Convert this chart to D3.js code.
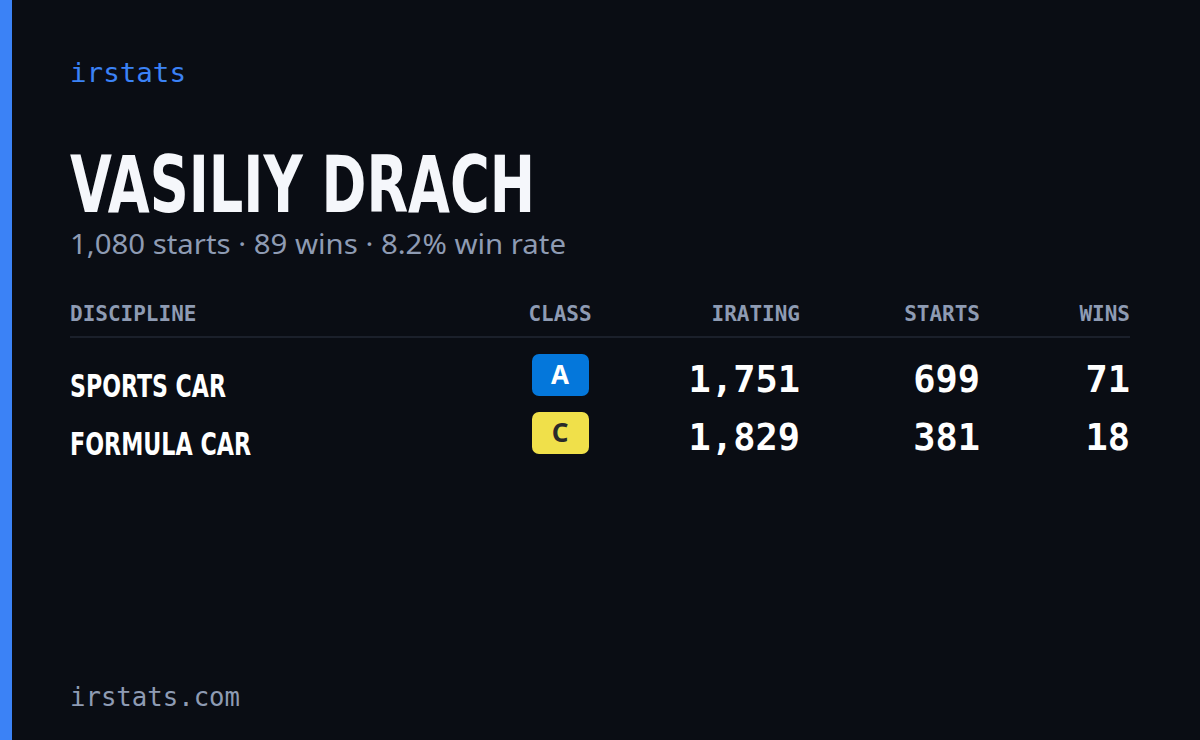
<!DOCTYPE html>
<html><head><meta charset="utf-8">
<script src="https://cdn.jsdelivr.net/npm/d3@7"></script>
<style>body{margin:0;background:#0a0d14}</style>
</head><body>
<script>
const driver = "VASILIY DRACH";
const disciplines = ["SPORTS CAR", "FORMULA CAR"];
const classes = ["A", "C"];
const iratings = [1751, 1829];
const starts = [699, 381];
const wins = [71, 18];
const columns = ["DISCIPLINE", "CLASS", "IRATING", "STARTS", "WINS"];

const W = 1200, H = 740;
const mono = "'DejaVu Sans Mono', 'Liberation Mono', monospace";
const narrow = "'Liberation Sans Narrow', 'DejaVu Sans Condensed', sans-serif";
const classColor = {A: "#0477db", B: "#16a34a", C: "#f0e04a", D: "#f97316"};
const classText = {A: "#ffffff", C: "#2a2a2a"};
const fmt = d3.format(",");

const svg = d3.select("body").append("svg").attr("width", W).attr("height", H);
svg.append("rect").attr("width", W).attr("height", H).attr("fill", "#0a0d14");
svg.append("rect").attr("width", 12).attr("height", H).attr("fill", "#3b82f6");

svg.append("text").attr("x", 70).attr("y", 82).attr("fill", "#3b82f6")
  .attr("font-family", mono).attr("font-size", 27)
  .attr("textLength", 116).attr("lengthAdjust", "spacingAndGlyphs").text("irstats");

svg.append("text").attr("x", 70).attr("y", 212).attr("fill", "#f5f7fb")
  .attr("font-family", narrow).attr("font-weight", "bold").attr("font-size", 78)
  .attr("textLength", 465).attr("lengthAdjust", "spacingAndGlyphs").text(driver);

const totS = d3.sum(starts), totW = d3.sum(wins);
svg.append("text").attr("x", 70).attr("y", 254).attr("fill", "#8e9bb3")
  .attr("font-family", "'Noto Sans', sans-serif").attr("font-size", 28)
  .attr("textLength", 496).attr("lengthAdjust", "spacingAndGlyphs")
  .text(`${fmt(totS)} starts · ${totW} wins · ${(totW / totS * 100).toFixed(1)}% win rate`);

// column anchors
const colX = [70, 560, 800, 980, 1130];
const colAnchor = ["start", "middle", "end", "end", "end"];
svg.selectAll(".hdr").data(columns).join("text")
  .attr("x", (d, i) => colX[i]).attr("y", 321).attr("text-anchor", (d, i) => colAnchor[i])
  .attr("fill", "#8e9bb3").attr("font-family", mono).attr("font-size", 21).attr("font-weight", 600)
  .text(d => d);
svg.append("line").attr("x1", 70).attr("x2", 1130).attr("y1", 337).attr("y2", 337)
  .attr("stroke", "#1b202b").attr("stroke-width", 2);

const nameW = [156, 181];
const y = d3.scaleBand().domain(d3.range(disciplines.length)).range([346, 462]);
const rows = svg.selectAll(".row").data(disciplines).join("g")
  .attr("transform", (d, i) => `translate(0,${y(i)})`);
rows.append("text").attr("x", 70).attr("y", 51).attr("fill", "#ffffff")
  .attr("font-family", narrow).attr("font-weight", "bold").attr("font-size", 32)
  .attr("textLength", (d, i) => nameW[i]).attr("lengthAdjust", "spacingAndGlyphs")
  .text(d => d);
rows.append("rect").attr("x", 532).attr("y", 8).attr("width", 57).attr("height", 42).attr("rx", 7)
  .attr("fill", (d, i) => classColor[classes[i]]);
rows.append("text").attr("x", 560).attr("y", 38).attr("text-anchor", "middle")
  .attr("fill", (d, i) => classText[classes[i]] || "#fff")
  .attr("font-family", "'Noto Sans', sans-serif").attr("font-weight", "bold").attr("font-size", 26)
  .text((d, i) => classes[i]);
const vals = [iratings.map(fmt), starts, wins];
vals.forEach((arr, c) => {
  rows.append("text").attr("x", colX[c + 2]).attr("y", 46).attr("text-anchor", "end")
    .attr("fill", "#ffffff").attr("font-family", mono).attr("font-size", 37).attr("font-weight", 600)
    .text((d, i) => arr[i]);
});

svg.append("text").attr("x", 70).attr("y", 706).attr("fill", "#8e9bb3")
  .attr("font-family", mono).attr("font-size", 27)
  .attr("textLength", 170).attr("lengthAdjust", "spacingAndGlyphs").text("irstats.com");
</script>
</body></html>
